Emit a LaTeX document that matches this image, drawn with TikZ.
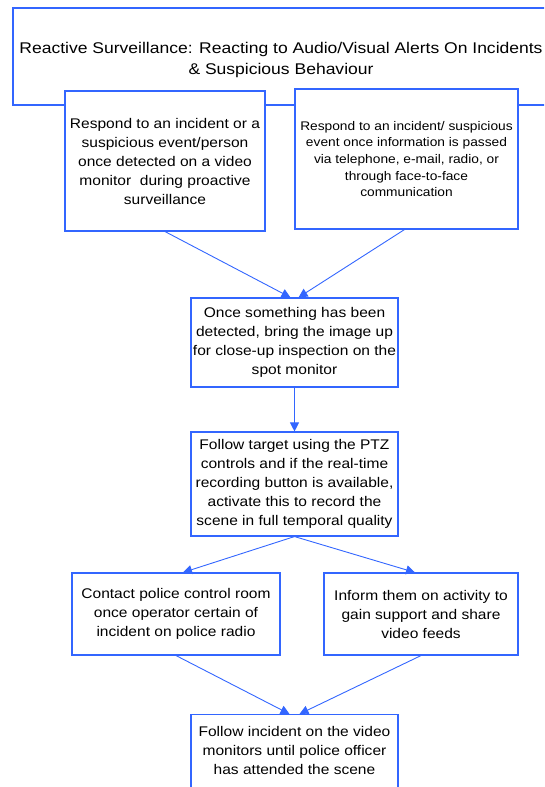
\documentclass[tikz,border=0pt]{standalone}
\usepackage{fontspec}
\setmainfont{Liberation Sans}
\newfontfamily\fa[FakeStretch=1.11]{Liberation Sans}
\newfontfamily\fb[FakeStretch=1.10]{Liberation Sans}
\newfontfamily\ft[FakeStretch=1.13]{Liberation Sans}
\usetikzlibrary{arrows.meta}
\definecolor{vblue}{RGB}{51,102,255}
\tikzset{
  box/.style={draw=vblue, line width=1.1pt, fill=white, align=center, inner sep=0pt,
    font=\fa\fontsize{14}{19}\selectfont},
  conn/.style={draw=vblue, line width=0.9pt, -{Triangle[length=9pt,width=9pt]}},
}
\begin{document}
\begin{tikzpicture}[x=1pt,y=-1pt]
\useasboundingbox (0,0) rectangle (544,787);
\clip (0,0) rectangle (544,787);
\node[box, line width=1.8pt, minimum width=534pt, minimum height=97pt] (titlebox) at (280,56.5) {};
\node[align=center, inner sep=0pt, font=\ft\fontsize{15.5}{21}\selectfont] (title) at (281,59.5)
  {Reactive Surveillance: Reacting to Audio/Visual Alerts On Incidents\\ \& Suspicious Behaviour};
\node[box, minimum width=200pt, minimum height=140pt] (a) at (165,161)
  {Respond to an incident or a\\ suspicious event/person\\ once detected on a video\\ monitor\ \ during proactive\\ surveillance};
\node[box, minimum width=223pt, minimum height=140pt, font=\fb\fontsize{12.5}{16.6}\selectfont] (b) at (406.5,159)
  {Respond to an incident/ suspicious\\ event once information is passed\\ via telephone, e-mail, radio, or\\ through face-to-face\\ communication};
\node[box, minimum width=207pt, minimum height=89pt] (c) at (294.5,342.5)
  {Once something has been\\ detected, bring the image up\\ for close-up inspection on the\\ spot monitor};
\node[box, minimum width=207pt, minimum height=104pt] (d) at (294.5,484)
  {Follow target using the PTZ\\ controls and if the real-time\\ recording button is available,\\ activate this to record the\\ scene in full temporal quality};
\node[box, minimum width=208pt, minimum height=82pt] (e) at (176,614)
  {Contact police control room\\ once operator certain of\\ incident on police radio};
\node[box, minimum width=194pt, minimum height=82pt] (f) at (421,614)
  {Inform them on activity to\\ gain support and share\\ video feeds};
\node[box, minimum width=207pt, minimum height=96pt, anchor=north] (g) at (294.5,714)
  {\\[3pt]Follow incident on the video\\ monitors until police officer\\ has attended the scene\\[30pt]};
\draw[conn] (a.south) -- ([xshift=-4pt]c.north);
\draw[conn] ([xshift=-2pt]b.south) -- ([xshift=4pt]c.north);
\draw[conn] (c.south) -- (d.north);
\draw[conn] (d.south) -- ([xshift=7pt]e.north);
\draw[conn] (d.south) -- ([xshift=-6pt]f.north);
\draw[conn] (e.south) -- ([xshift=-5pt]g.north);
\draw[conn] (f.south) -- ([xshift=5pt]g.north);
\end{tikzpicture}
\end{document}
